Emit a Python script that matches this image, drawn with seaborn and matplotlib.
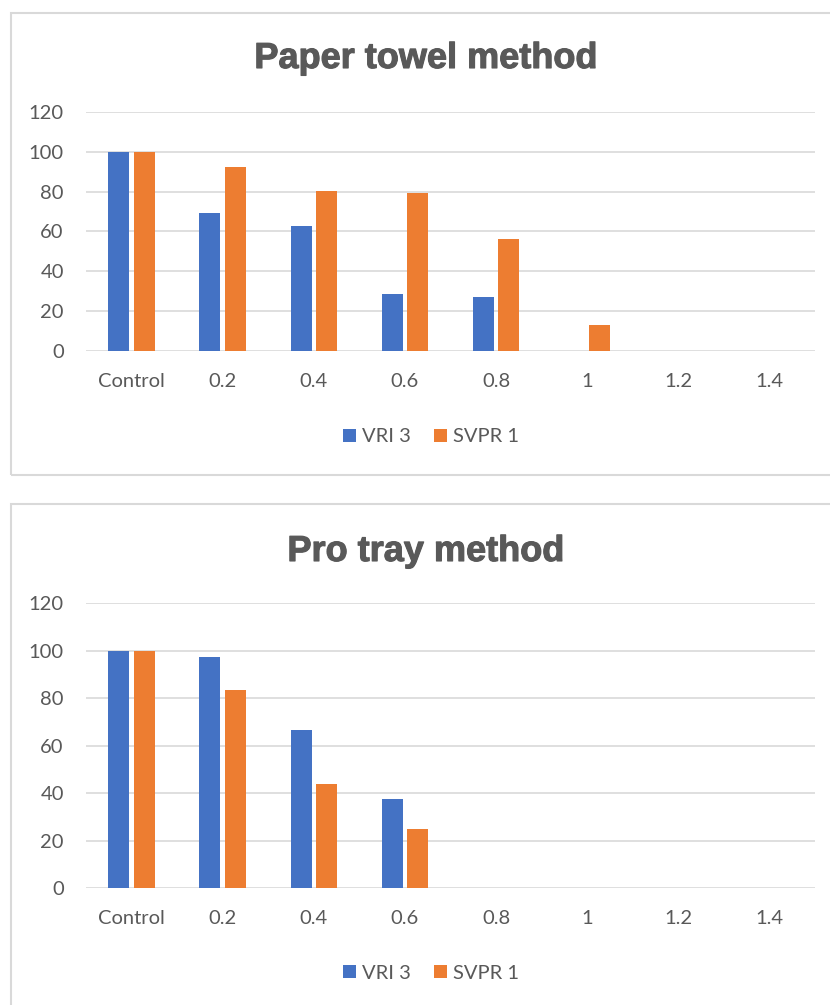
"""
Seed germination under two testing methods (Paper towel vs Pro tray)
for the varieties VRI 3 and SVPR 1, drawn as grouped bar charts.
"""

import pandas as pd
import matplotlib.pyplot as plt
import matplotlib.patheffects as pe
import seaborn as sns
from matplotlib.patches import Rectangle

# Data
categories = ['Control', '0.2', '0.4', '0.6', '0.8', '1', '1.2', '1.4']
varieties = ['VRI 3', 'SVPR 1']

paper_vri3 = [100, 69.2, 62.7, 28.5, 27.1, 0, 0, 0]
paper_svpr1 = [100, 92.3, 80.1, 79.4, 56.1, 13.1, 0, 0]

tray_vri3 = [100, 97.2, 66.4, 37.3, 0, 0, 0, 0]
tray_svpr1 = [100, 83.2, 43.7, 24.8, 0, 0, 0, 0]

y_ticks = [0, 20, 40, 60, 80, 100, 120]
titles = ['Paper towel method', 'Pro tray method']

# Style
sns.set_style('white')
plt.rcParams['font.family'] = ['Lato', 'DejaVu Sans']
colors = ['#4472C4', '#ED7D31']
text_gray = '#595959'
grid_gray = '#D9D9D9'

W, H = 830, 1005


def fx(x):
    return x / W


def fy(y):
    return 1 - y / H


def long_frame(vri, svpr):
    rows = []
    for cat, a, b in zip(categories, vri, svpr):
        rows.append({'conc': cat, 'variety': varieties[0], 'value': a})
        rows.append({'conc': cat, 'variety': varieties[1], 'value': b})
    return pd.DataFrame(rows)


fig = plt.figure(figsize=(W / 100, H / 100), dpi=100)

# panel layout in pixels: (box top, box bottom, axis top, axis bottom, title baseline, legend y)
panels = [
    (13, 475, 112, 351, 68, 437, long_frame(paper_vri3, paper_svpr1)),
    (504, 1010, 603, 888, 561, 973, long_frame(tray_vri3, tray_svpr1)),
]

for (box_top, box_bot, ax_top, ax_bot, title_y, leg_y, df), title in zip(panels, titles):
    # light gray frame around each chart
    fig.add_artist(Rectangle((fx(10.5), fy(box_bot)), fx(840), (box_bot - box_top) / H,
                             transform=fig.transFigure, fill=False,
                             edgecolor=grid_gray, linewidth=1.5))

    ax = fig.add_axes([fx(86), fy(ax_bot), (815 - 86) / W, (ax_bot - ax_top) / H])
    sns.barplot(data=df, x='conc', y='value', hue='variety', palette=colors,
                saturation=1, width=0.56, gap=0.18, ax=ax, linewidth=0)

    ax.set_ylim(0, 120)
    ax.set_yticks(y_ticks)
    ax.set_xlabel('')
    ax.set_ylabel('')
    ax.grid(axis='y', color=grid_gray, linewidth=1.2)
    ax.set_axisbelow(True)
    for s in ax.spines.values():
        s.set_visible(False)
    ax.tick_params(axis='both', length=0, labelsize=14.5, labelcolor=text_gray)
    ax.tick_params(axis='x', pad=16)
    ax.tick_params(axis='y', pad=16)

    t = fig.text(fx(426), fy(title_y), title, ha='center', va='baseline',
                 fontsize=26, fontweight='bold', color=text_gray,
                 family=['Liberation Sans', 'DejaVu Sans'])
    t.set_path_effects([pe.withStroke(linewidth=0.8, foreground=text_gray)])

    sns.move_legend(ax, 'center', bbox_to_anchor=(fx(431), fy(leg_y)),
                    bbox_transform=fig.transFigure, ncol=2, frameon=False,
                    title=None, fontsize=14.5, handlelength=0.65, handleheight=0.65,
                    handletextpad=0.3, columnspacing=1.1, labelcolor=text_gray)

fig.savefig('out.png', dpi=100, facecolor='white')
